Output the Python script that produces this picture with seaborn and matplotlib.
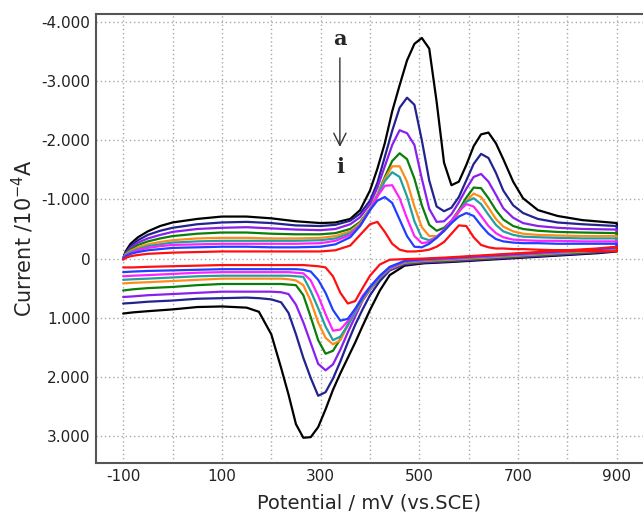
import matplotlib
matplotlib.use("Agg")
import pandas as pd
import matplotlib.pyplot as plt
import seaborn as sns
from matplotlib.ticker import FuncFormatter

# Potentials of the forward (anodic) and reverse (cathodic) scans, mV vs SCE
E_fwd = [-100, -95, -85, -70, -50, -25, 0, 50, 100, 150, 200, 250, 300, 330, 360, 380,
         400, 415, 430, 445, 460, 475, 490, 505, 520, 535, 550, 565, 580, 595, 610, 625,
         640, 655, 670, 690, 710, 740, 780, 830, 900]
E_rev = [900, 860, 800, 740, 680, 620, 560, 510, 470, 440, 420, 400, 385, 370, 355, 340,
         325, 310, 295, 280, 265, 250, 235, 220, 200, 175, 150, 100, 50, 0, -50, -80, -100]

# Current (10^-4 A), curves a..i
fwd_a = [0.0, -0.12, -0.25, -0.36, -0.46, -0.55, -0.61, -0.67, -0.71, -0.71, -0.68, -0.63, -0.60, -0.61, -0.67, -0.82,
         -1.15, -1.52, -1.95, -2.49, -2.93, -3.35, -3.63, -3.73, -3.55, -2.65, -1.62, -1.24, -1.30, -1.58, -1.90, -2.10,
         -2.13, -1.95, -1.68, -1.30, -1.02, -0.82, -0.72, -0.65, -0.60]
fwd_b = [0.0, -0.10, -0.21, -0.31, -0.40, -0.47, -0.52, -0.58, -0.61, -0.62, -0.60, -0.56, -0.55, -0.57, -0.64, -0.76,
         -0.98, -1.28, -1.72, -2.16, -2.55, -2.72, -2.60, -2.00, -1.32, -0.88, -0.80, -0.86, -1.04, -1.32, -1.60, -1.77,
         -1.70, -1.45, -1.15, -0.90, -0.77, -0.67, -0.61, -0.58, -0.55]
fwd_c = [0.0, -0.09, -0.18, -0.27, -0.34, -0.40, -0.45, -0.50, -0.52, -0.53, -0.51, -0.49, -0.48, -0.50, -0.58, -0.70,
         -0.92, -1.20, -1.56, -1.92, -2.17, -2.12, -1.92, -1.35, -0.84, -0.62, -0.63, -0.75, -0.95, -1.18, -1.38, -1.43,
         -1.30, -1.08, -0.85, -0.69, -0.60, -0.55, -0.52, -0.50, -0.49]
fwd_d = [0.0, -0.08, -0.15, -0.23, -0.29, -0.34, -0.38, -0.42, -0.44, -0.44, -0.42, -0.41, -0.41, -0.43, -0.50, -0.62,
         -0.84, -1.08, -1.38, -1.65, -1.78, -1.68, -1.35, -0.90, -0.57, -0.47, -0.52, -0.64, -0.82, -1.03, -1.20, -1.19,
         -1.02, -0.82, -0.66, -0.55, -0.50, -0.47, -0.45, -0.44, -0.43]
fwd_e = [0.0, -0.07, -0.13, -0.19, -0.24, -0.28, -0.31, -0.34, -0.35, -0.35, -0.34, -0.34, -0.35, -0.38, -0.46, -0.60,
         -0.84, -1.08, -1.35, -1.56, -1.56, -1.30, -0.88, -0.53, -0.38, -0.38, -0.46, -0.60, -0.78, -0.97, -1.10, -1.04,
         -0.86, -0.67, -0.54, -0.46, -0.42, -0.40, -0.39, -0.38, -0.38]
fwd_f = [0.0, -0.06, -0.11, -0.16, -0.21, -0.24, -0.27, -0.29, -0.30, -0.30, -0.30, -0.30, -0.31, -0.34, -0.43, -0.57,
         -0.82, -1.06, -1.31, -1.46, -1.38, -1.05, -0.63, -0.35, -0.31, -0.36, -0.47, -0.62, -0.80, -0.96, -1.02, -0.92,
         -0.74, -0.57, -0.46, -0.40, -0.37, -0.36, -0.35, -0.34, -0.34]
fwd_g = [0.0, -0.05, -0.09, -0.14, -0.18, -0.21, -0.23, -0.24, -0.25, -0.25, -0.25, -0.25, -0.26, -0.30, -0.40, -0.56,
         -0.82, -1.05, -1.23, -1.24, -1.02, -0.68, -0.38, -0.26, -0.28, -0.36, -0.49, -0.64, -0.80, -0.92, -0.88, -0.72,
         -0.55, -0.43, -0.36, -0.32, -0.31, -0.30, -0.30, -0.29, -0.29]
fwd_h = [0.0, -0.04, -0.08, -0.11, -0.14, -0.16, -0.18, -0.19, -0.20, -0.20, -0.19, -0.19, -0.20, -0.24, -0.36, -0.55,
         -0.82, -0.98, -1.04, -0.94, -0.66, -0.38, -0.20, -0.19, -0.25, -0.35, -0.47, -0.60, -0.71, -0.77, -0.72, -0.56,
         -0.42, -0.33, -0.29, -0.27, -0.26, -0.26, -0.25, -0.25, -0.25]
fwd_i = [0.02, -0.01, -0.04, -0.06, -0.08, -0.09, -0.10, -0.11, -0.12, -0.12, -0.12, -0.12, -0.12, -0.14, -0.22, -0.40,
         -0.58, -0.62, -0.45, -0.25, -0.15, -0.12, -0.12, -0.13, -0.15, -0.20, -0.28, -0.42, -0.56, -0.55, -0.36, -0.23,
         -0.19, -0.17, -0.17, -0.16, -0.16, -0.15, -0.14, -0.13, -0.12]

rev_a = [-0.12, -0.09, -0.06, -0.03, 0.0, 0.03, 0.06, 0.08, 0.12, 0.28, 0.54, 0.87, 1.14, 1.42, 1.68, 1.94,
         2.22, 2.55, 2.85, 3.02, 3.03, 2.80, 2.30, 1.85, 1.28, 0.90, 0.83, 0.81, 0.82, 0.86, 0.89, 0.91, 0.93]
rev_b = [-0.13, -0.10, -0.07, -0.04, -0.01, 0.02, 0.05, 0.07, 0.10, 0.20, 0.38, 0.62, 0.86, 1.12, 1.42, 1.74,
         2.03, 2.26, 2.32, 2.02, 1.68, 1.28, 0.92, 0.74, 0.69, 0.67, 0.66, 0.67, 0.68, 0.71, 0.73, 0.75, 0.76]
rev_c = [-0.14, -0.11, -0.08, -0.05, -0.02, 0.01, 0.04, 0.06, 0.09, 0.19, 0.33, 0.53, 0.71, 0.98, 1.25, 1.54,
         1.79, 1.89, 1.78, 1.43, 1.08, 0.78, 0.60, 0.57, 0.56, 0.56, 0.56, 0.56, 0.58, 0.60, 0.62, 0.64, 0.65]
rev_d = [-0.15, -0.12, -0.09, -0.06, -0.03, 0.0, 0.03, 0.05, 0.08, 0.17, 0.33, 0.51, 0.69, 0.88, 1.12, 1.36,
         1.56, 1.61, 1.38, 0.99, 0.62, 0.45, 0.44, 0.43, 0.43, 0.43, 0.43, 0.43, 0.45, 0.48, 0.50, 0.52, 0.54]
rev_e = [-0.16, -0.13, -0.10, -0.07, -0.04, -0.01, 0.02, 0.04, 0.07, 0.17, 0.32, 0.52, 0.69, 0.92, 1.13, 1.38,
         1.45, 1.34, 1.08, 0.72, 0.45, 0.37, 0.35, 0.34, 0.34, 0.34, 0.34, 0.34, 0.36, 0.38, 0.40, 0.41, 0.42]
rev_f = [-0.17, -0.14, -0.11, -0.08, -0.05, -0.02, 0.01, 0.03, 0.06, 0.16, 0.32, 0.50, 0.67, 0.91, 1.13, 1.32,
         1.38, 1.15, 0.84, 0.55, 0.31, 0.30, 0.29, 0.29, 0.29, 0.29, 0.29, 0.29, 0.30, 0.32, 0.34, 0.35, 0.36]
rev_g = [-0.18, -0.15, -0.12, -0.09, -0.06, -0.03, 0.0, 0.02, 0.05, 0.15, 0.30, 0.48, 0.63, 0.86, 1.06, 1.20,
         1.22, 0.94, 0.63, 0.37, 0.25, 0.24, 0.23, 0.23, 0.23, 0.23, 0.23, 0.23, 0.24, 0.26, 0.28, 0.29, 0.30]
rev_h = [-0.19, -0.16, -0.13, -0.10, -0.07, -0.04, -0.01, 0.01, 0.04, 0.14, 0.29, 0.48, 0.66, 0.85, 1.02, 1.05,
         0.87, 0.58, 0.36, 0.22, 0.19, 0.18, 0.18, 0.18, 0.18, 0.18, 0.18, 0.18, 0.19, 0.20, 0.21, 0.22, 0.23]
rev_i = [-0.20, -0.17, -0.14, -0.11, -0.08, -0.05, -0.02, 0.0, 0.01, 0.02, 0.10, 0.29, 0.50, 0.72, 0.76, 0.58,
         0.30, 0.15, 0.13, 0.12, 0.11, 0.11, 0.11, 0.11, 0.11, 0.11, 0.11, 0.11, 0.12, 0.13, 0.14, 0.15, 0.15]

curve_names = list("abcdefghi")
fwd_all = [fwd_a, fwd_b, fwd_c, fwd_d, fwd_e, fwd_f, fwd_g, fwd_h, fwd_i]
rev_all = [rev_a, rev_b, rev_c, rev_d, rev_e, rev_f, rev_g, rev_h, rev_i]
colors = ["#000000", "#23238f", "#8a1ff0", "#0a7d0a", "#ff8c1a",
          "#22a0a0", "#ff22ff", "#2040ff", "#ff1010"]

frames = []
for name, f, r in zip(curve_names, fwd_all, rev_all):
    E = E_fwd + E_rev
    frames.append(pd.DataFrame({"E": E, "I": f + r, "curve": name, "step": range(len(E))}))
df = pd.concat(frames, ignore_index=True)

sns.set_style("white")

fig = plt.figure(figsize=(6.43, 5.15), dpi=100)
ax = fig.add_axes([96 / 643, 52 / 515, 547 / 643, 449 / 515])

sns.lineplot(data=df, x="E", y="I", hue="curve", palette=colors, sort=False,
             estimator=None, legend=False, linewidth=1.6, ax=ax)

ax.set_xlim(-155, 953)
ax.set_ylim(3.457, -4.135)

xt = list(range(-100, 901, 100))
ax.set_xticks(xt)
ax.set_xticklabels([str(v) if (v + 100) % 200 == 0 else "" for v in xt])
ax.set_yticks(range(-4, 4))
ax.yaxis.set_major_formatter(FuncFormatter(lambda v, p: "0" if v == 0 else f"{v:.3f}"))

ax.set_axisbelow(True)
ax.grid(True, color="#a8a8a8", linestyle=(0, (1, 2)), linewidth=1.0)

for s in ["left", "bottom", "top"]:
    ax.spines[s].set_color("#555555")
    ax.spines[s].set_linewidth(1.5)
ax.spines["right"].set_visible(False)

ax.tick_params(direction="in", length=4, width=1, color="#555555",
               labelsize=11, pad=4, labelcolor="#222222")

ax.set_xlabel("Potential / mV (vs.SCE)", fontsize=14, labelpad=7)
ax.set_ylabel(r"Current /10$^{-4}$A", fontsize=15, labelpad=4)

# a -> i arrow
ax.annotate("", xy=(339, -1.84), xytext=(339, -3.44),
            arrowprops=dict(arrowstyle="->", lw=1.0, color="#333333", mutation_scale=22))
ax.text(339, -3.72, "a", ha="center", va="center", fontsize=15, fontweight="bold", family="DejaVu Serif")
ax.text(339, -1.55, "i", ha="center", va="center", fontsize=15, fontweight="bold", family="DejaVu Serif")

fig.savefig("out.png", dpi=100)
